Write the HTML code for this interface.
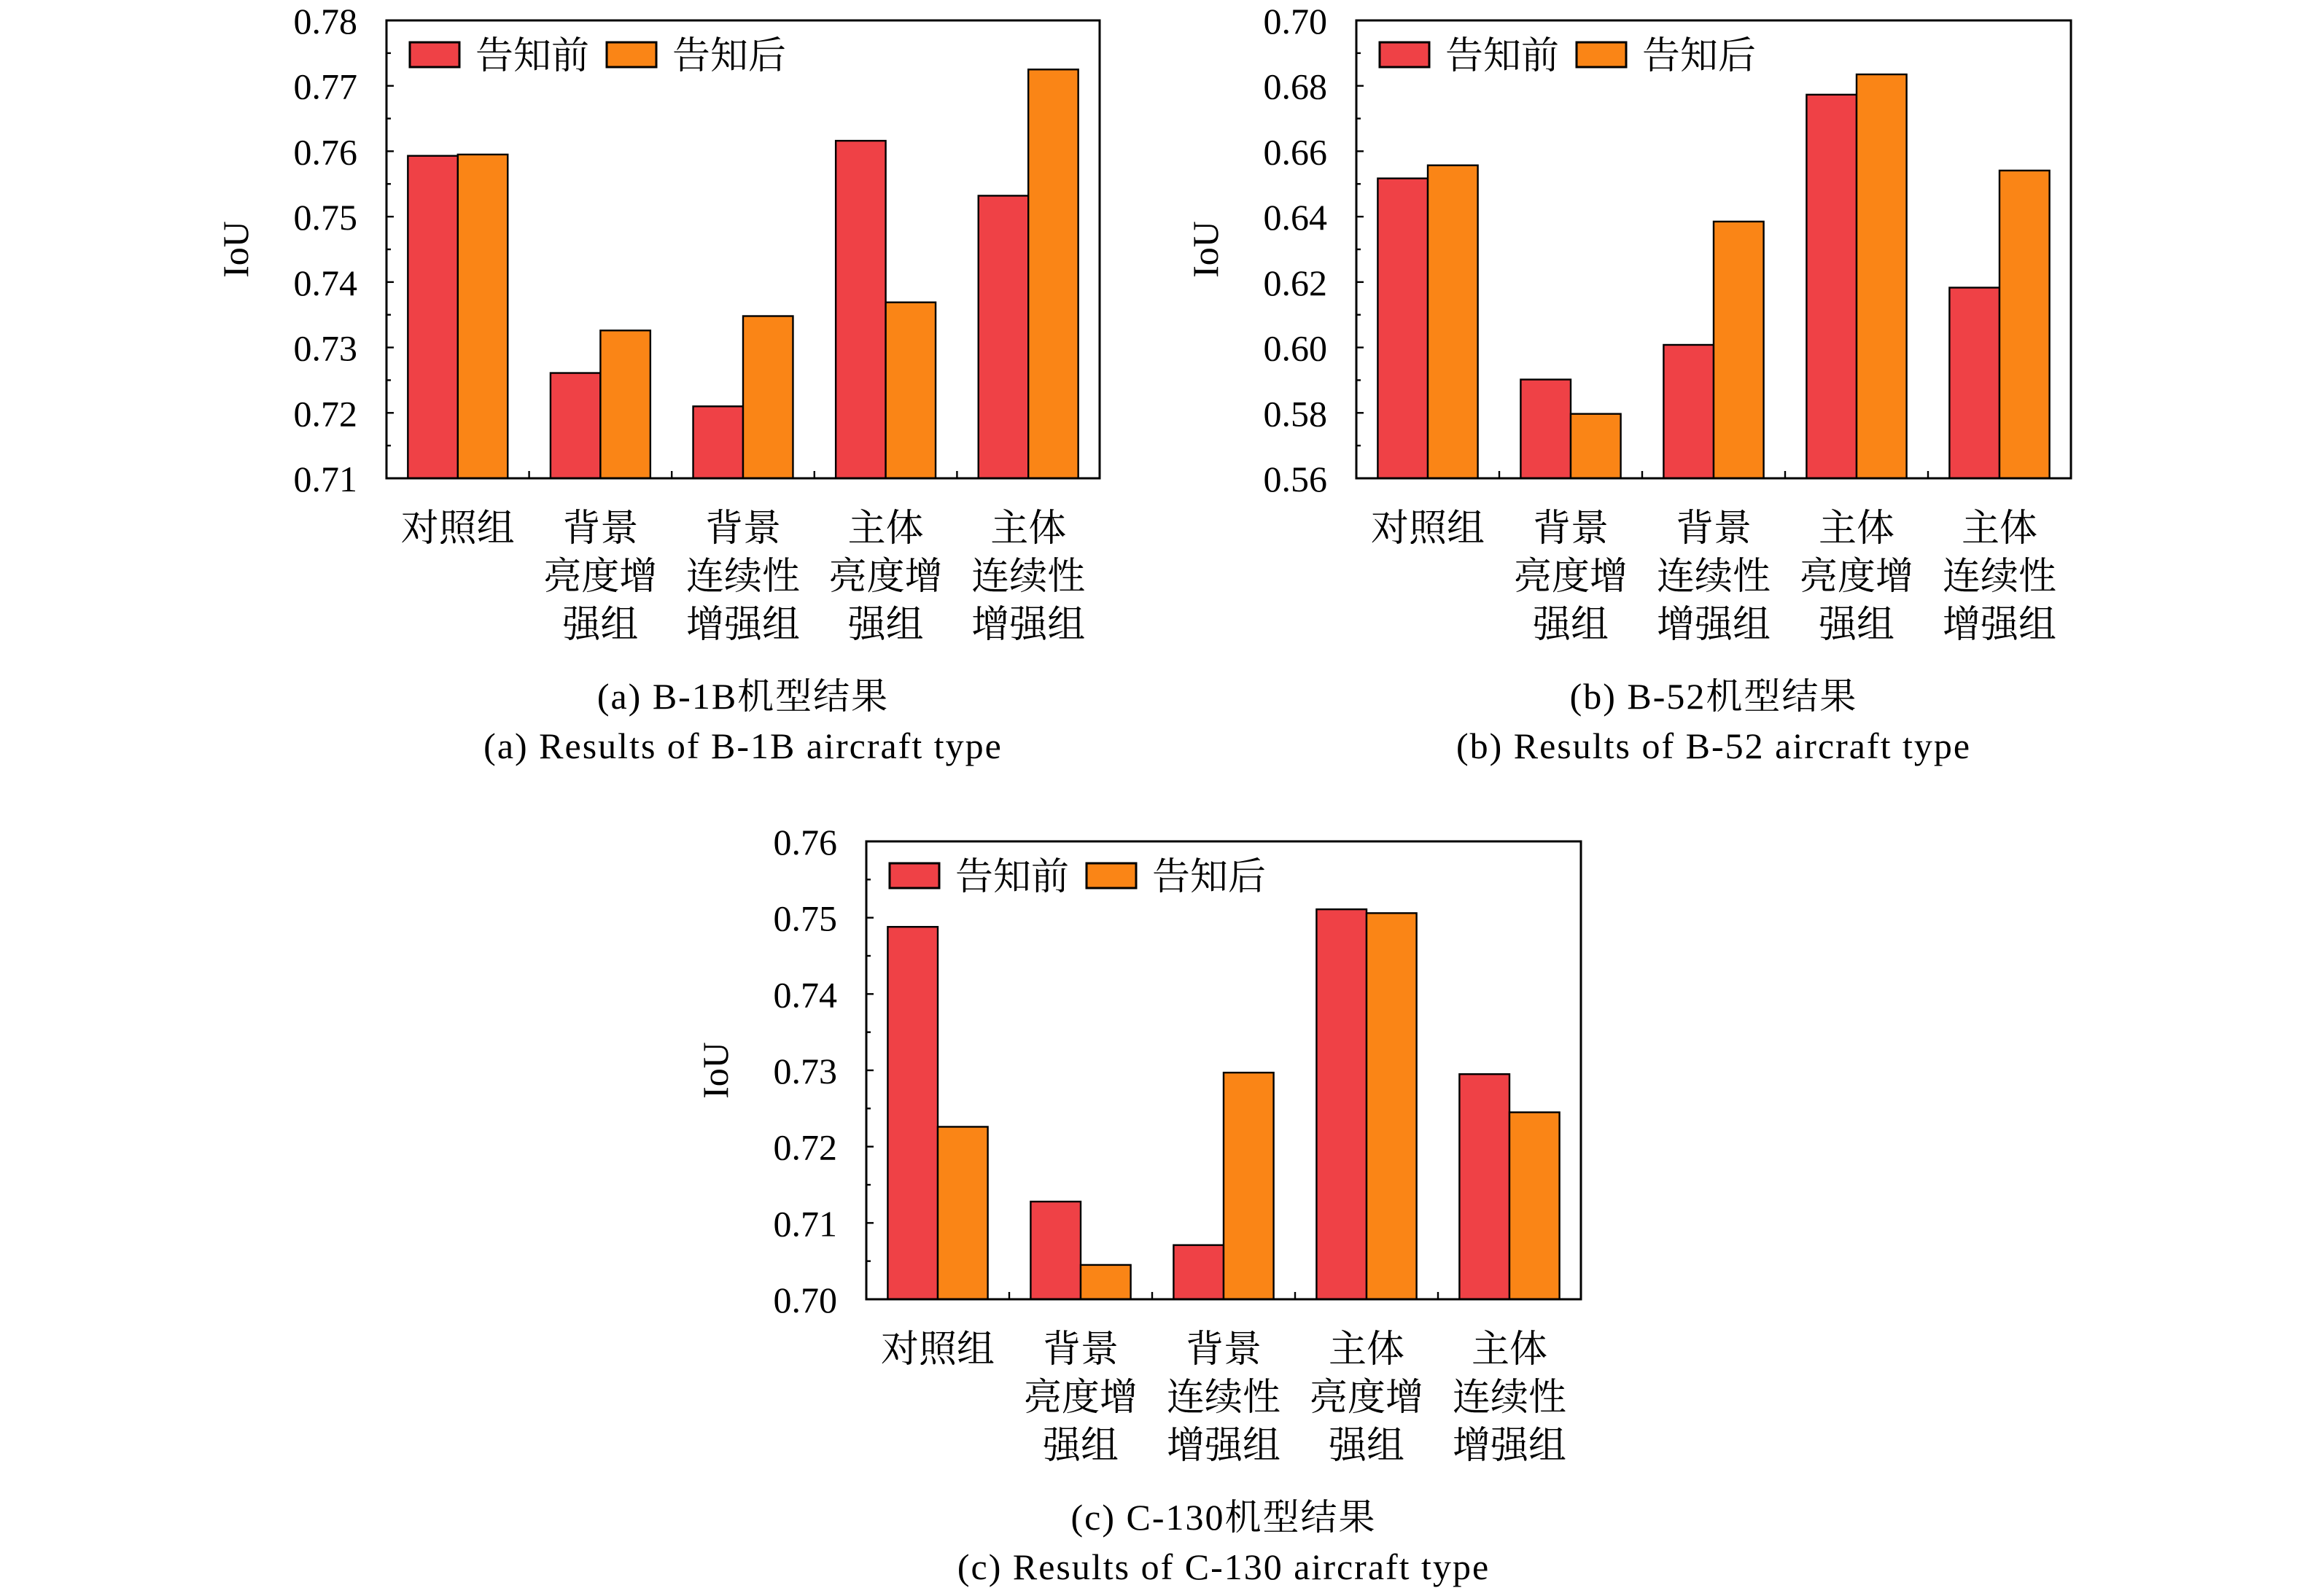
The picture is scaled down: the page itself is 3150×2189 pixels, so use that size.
<!DOCTYPE html>
<html><head><meta charset="utf-8"><style>
html,body{margin:0;padding:0;background:#fff}
svg{display:block}
text{font-family:"Liberation Serif","Noto Serif CJK SC","Noto Sans CJK SC",serif;fill:#000}
</style></head><body>
<svg id="fig" xmlns="http://www.w3.org/2000/svg" width="3150" height="2189" viewBox="0 0 1575 1094.5"></svg>
<script>
const categories = [["对照组"],["背景","亮度增","强组"],["背景","连续性","增强组"],["主体","亮度增","强组"],["主体","连续性","增强组"]];
const seriesNames = ["告知前","告知后"];
const aBefore = [0.7593,0.7261,0.7210,0.7616,0.7532];
const aAfter  = [0.7595,0.7326,0.7348,0.7369,0.7725];
const aTicks  = ["0.71","0.72","0.73","0.74","0.75","0.76","0.77","0.78"];
const bBefore = [0.6517,0.5902,0.6008,0.6773,0.6183];
const bAfter  = [0.6557,0.5797,0.6385,0.6835,0.6541];
const bTicks  = ["0.56","0.58","0.60","0.62","0.64","0.66","0.68","0.70"];
const cBefore = [0.7488,0.7128,0.7071,0.7511,0.7295];
const cAfter  = [0.7226,0.7045,0.7297,0.7506,0.7245];
const cTicks  = ["0.70","0.71","0.72","0.73","0.74","0.75","0.76"];
const captions = [["(a) B-1B机型结果","(a) Results of B-1B aircraft type"],["(b) B-52机型结果","(b) Results of B-52 aircraft type"],["(c) C-130机型结果","(c) Results of C-130 aircraft type"]];

const NS="http://www.w3.org/2000/svg";
const svg=document.getElementById('fig');
const RED="#EF4146", ORANGE="#FA8516";
function mk(tag,attrs,parent){const e=document.createElementNS(NS,tag);for(const k in attrs)e.setAttribute(k,attrs[k]);(parent||svg).appendChild(e);return e;}

function chart(id,L,T,R,B,before,after,ticks,cap){
  const g=mk('g',{});
  
  
  const lo=parseFloat(ticks[0]), hi=parseFloat(ticks[ticks.length-1]);
  const y=v=>B-(v-lo)/(hi-lo)*(B-T);
  const gw=(R-L)/categories.length, bw=gw*0.35;
  const x=i=>L+gw*(i+0.5);
  [before,after].forEach((arr,s)=>{
    arr.forEach((v,i)=>{
      const r=mk('rect',{x:x(i)-bw+s*bw,y:y(v),width:bw,height:B-y(v),fill:s?ORANGE:RED,stroke:'#000','stroke-width':1.2},g);
      
      
    });
  });
  const f=mk('rect',{x:L,y:T,width:R-L,height:B-T,fill:'none',stroke:'#000','stroke-width':1.5},g);
  
  
  const step=(hi-lo)/(ticks.length-1);
  ticks.forEach((t,i)=>{
    const v=parseFloat(t), yy=y(v);
    mk('line',{x1:L,x2:L+5,y1:yy,y2:yy,stroke:'#000','stroke-width':1.2},g);
    if(i<ticks.length-1){const ym=y(v+step/2);mk('line',{x1:L,x2:L+3,y1:ym,y2:ym,stroke:'#000','stroke-width':1.2},g);}
    const tx=mk('text',{x:L-20,y:yy+9,'text-anchor':'end','font-size':25},g);
    tx.textContent=t;
    
    
  });
  for(let i=1;i<categories.length;i++){mk('line',{x1:L+gw*i,x2:L+gw*i,y1:B,y2:B-5,stroke:'#000','stroke-width':1.2},g);}
  categories.forEach((lines,i)=>{
    lines.forEach((s,j)=>{
      const tx=mk('text',{x:x(i),y:B+43+j*33,'text-anchor':'middle','font-size':26},g);
      tx.textContent=s;
      
      
    });
  });
  const yt=mk('text',{x:0,y:0,'text-anchor':'middle','font-size':25,transform:`translate(${L-95},${(T+B)/2}) rotate(-90)`},g);
  yt.textContent='IoU';
  
  
  const lg=mk('g',{},g);
  
  
  [RED,ORANGE].forEach((c,s)=>{
    const lx=L+16+s*135;
    mk('rect',{x:lx,y:T+15,width:34,height:17,fill:c,stroke:'#000','stroke-width':1.5},lg);
    const tx=mk('text',{x:lx+45,y:T+33,'font-size':26},lg);
    tx.textContent=seriesNames[s];
    
    
  });
  cap.forEach((s,j)=>{
    const tx=mk('text',{x:(L+R)/2,y:B+158+j*34,'text-anchor':'middle','font-size':25,'letter-spacing':1},g);
    tx.textContent=s;
    
    
  });
}
chart('a',265,14,754,328,aBefore,aAfter,aTicks,captions[0]);
chart('b',930,14,1420,328,bBefore,bAfter,bTicks,captions[1]);
chart('c',594,577,1084,891,cBefore,cAfter,cTicks,captions[2]);
</script>
</body></html>
